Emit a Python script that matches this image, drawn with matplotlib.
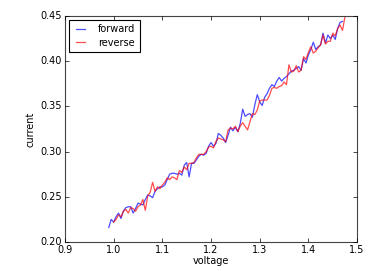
import numpy as np
import matplotlib
matplotlib.use('Agg')
import matplotlib.pyplot as plt

plt.style.use('classic')

# forward sweep
fwd_v = np.round(np.arange(0.99, 1.4701, 0.005), 3)
fwd_i = [0.216, 0.225, 0.222, 0.228, 0.232, 0.226, 0.234, 0.238, 0.239, 0.239,
         0.232, 0.237, 0.243, 0.242, 0.241, 0.247, 0.252, 0.251, 0.249, 0.256,
         0.259, 0.261, 0.261, 0.263, 0.269, 0.275, 0.276, 0.276, 0.275, 0.276,
         0.274, 0.285, 0.288, 0.272, 0.287, 0.287, 0.291, 0.295, 0.297, 0.296,
         0.298, 0.306, 0.310, 0.306, 0.309, 0.320, 0.318, 0.315, 0.310, 0.318,
         0.327, 0.323, 0.327, 0.322, 0.331, 0.347, 0.339, 0.341, 0.342, 0.338,
         0.352, 0.363, 0.355, 0.351, 0.360, 0.364, 0.370, 0.374, 0.372, 0.378,
         0.382, 0.378, 0.381, 0.383, 0.386, 0.389, 0.390, 0.392, 0.394, 0.390,
         0.403, 0.398, 0.407, 0.413, 0.421, 0.413, 0.416, 0.418, 0.431, 0.420,
         0.429, 0.425, 0.429, 0.424, 0.436, 0.443, 0.444]

# reverse sweep
rev_v = np.round(np.arange(1.0, 1.4801, 0.005), 3)
rev_i = [0.222, 0.225, 0.230, 0.228, 0.234, 0.236, 0.232, 0.238, 0.237, 0.234,
         0.239, 0.241, 0.247, 0.235, 0.251, 0.255, 0.266, 0.256, 0.261, 0.259,
         0.263, 0.266, 0.271, 0.269, 0.272, 0.271, 0.269, 0.279, 0.277, 0.283,
         0.280, 0.287, 0.287, 0.288, 0.293, 0.297, 0.297, 0.297, 0.300, 0.305,
         0.306, 0.304, 0.311, 0.315, 0.314, 0.313, 0.311, 0.324, 0.326, 0.325,
         0.328, 0.322, 0.328, 0.332, 0.328, 0.324, 0.333, 0.342, 0.341, 0.346,
         0.356, 0.357, 0.357, 0.357, 0.362, 0.370, 0.371, 0.370, 0.372, 0.373,
         0.377, 0.374, 0.396, 0.388, 0.389, 0.395, 0.388, 0.390, 0.405, 0.402,
         0.410, 0.416, 0.409, 0.411, 0.415, 0.418, 0.429, 0.419, 0.422, 0.422,
         0.431, 0.428, 0.436, 0.440, 0.434, 0.449, 0.460]

fig = plt.figure(figsize=(3.89, 2.71), dpi=100, facecolor='white')
ax = fig.add_axes([0.167, 0.107, 0.751, 0.834])

ax.plot(fwd_v, fwd_i, color='b', alpha=0.7, lw=0.9, label='forward')
ax.plot(rev_v, rev_i, color='r', alpha=0.7, lw=0.9, label='reverse')

ax.set_xlim(0.9, 1.5)
ax.set_ylim(0.20, 0.45)
ax.set_xticks([0.9, 1.0, 1.1, 1.2, 1.3, 1.4, 1.5])
ax.set_yticks([0.20, 0.25, 0.30, 0.35, 0.40, 0.45])
ax.tick_params(labelsize=7, length=3, width=0.5, pad=2)
ax.set_xlabel('voltage', fontsize=7, labelpad=1)
ax.set_ylabel('current', fontsize=7, labelpad=4)
for s in ax.spines.values():
    s.set_linewidth(0.8)
    s.set_color('#444444')

leg = ax.legend(loc='upper left', fontsize=7, handlelength=1.55, borderpad=0.45,
                labelspacing=0.35, handletextpad=1.0, borderaxespad=0.4)
leg.get_frame().set_linewidth(0.8)

fig.savefig('out.png', dpi=100, facecolor='white')
